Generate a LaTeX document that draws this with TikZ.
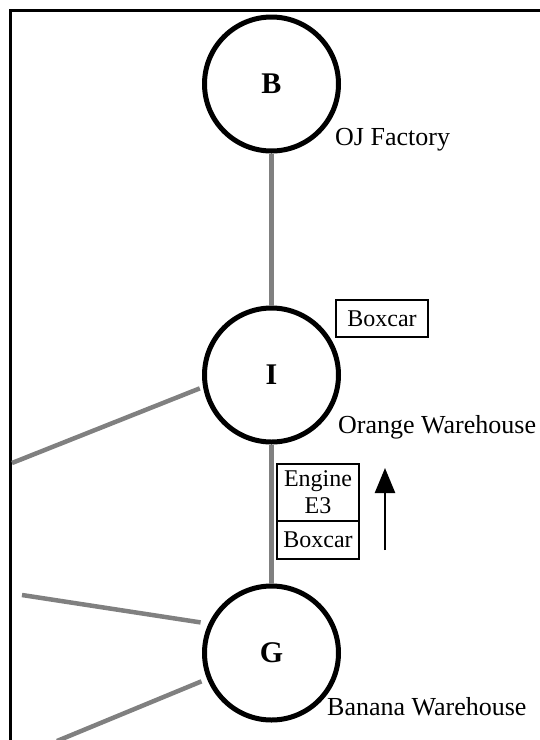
\documentclass[tikz,border=0pt]{standalone}
\usepackage{fontspec}
\setmainfont{Liberation Serif}
\usepackage{xcolor}
\usepackage{tikz}
\usetikzlibrary{arrows.meta,positioning}
\definecolor{gris}{HTML}{808080}
\tikzset{
  estacion/.style={circle,draw,line width=5pt,fill=white,minimum size=134pt,inner sep=0pt,font=\fontsize{30}{32}\selectfont\bfseries},
  vagon/.style={draw,line width=2pt,align=center,inner sep=2pt,font=\fontsize{24}{27}\selectfont},
  nombre/.style={anchor=base west,inner sep=0pt,font=\fontsize{26}{30}\selectfont},
  via/.style={line width=4.5pt,gris},
  marco/.style={line width=3pt},
  flecha/.style={-{Triangle[length=25pt,width=20pt]},line width=2.5pt},
}
\begin{document}
\begin{tikzpicture}[x=1pt,y=-1pt]
  \useasboundingbox (0,0) rectangle (540,740);
  \draw[marco] (10,10) rectangle (550,750);
  % estaciones
  \node[estacion] (B) at (271.5,84) {B};
  \node[estacion] (I) at (271.5,375) {I};
  \node[estacion] (G) at (271.5,653) {G};
  \node[nombre] (nb) at (335,145) {OJ Factory};
  \node[nombre] (ni) at (338,433) {Orange Warehouse};
  \node[nombre] (ng) at (327,715) {Banana Warehouse};
  % vagones
  \node[vagon,minimum width=92pt,minimum height=37pt] (box1) at (382,318.5) {Boxcar};
  \node[vagon,minimum width=82pt,minimum height=57pt] (eng) at (318,492.5) {Engine\\E3};
  \node[vagon,minimum width=82pt,minimum height=38pt] (box2) at (318,540) {Boxcar};
  % vias
  \coordinate (w1) at (12,463);
  \coordinate (w2) at (22,595);
  \coordinate (w3) at (57,741);
  \draw[via] (B) -- (I);
  \draw[via] (I) -- (G);
  \draw[via,shorten >=3.5pt] (w1) -- (I.190);
  \draw[via,shorten >=8pt] (w2) -- (G.155);
  \draw[via,shorten >=6pt] (w3) -- (G.202);
  % sentido
  \coordinate (fa) at (385,550);
  \coordinate (fb) at (385,468);
  \draw[flecha] (fa) -- (fb);
\end{tikzpicture}
\end{document}
